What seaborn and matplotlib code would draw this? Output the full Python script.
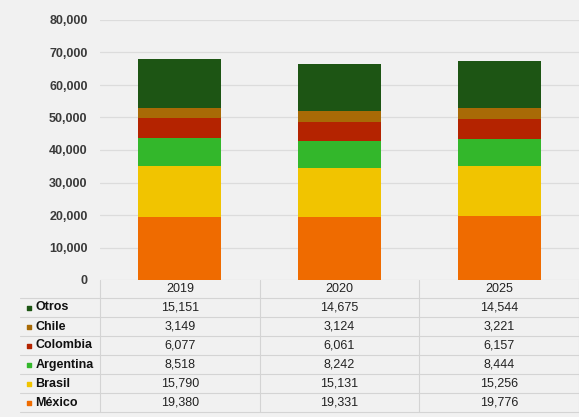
import numpy as np
import seaborn as sns
import matplotlib.pyplot as plt
from matplotlib.transforms import blended_transform_factory

years = ["2019", "2020", "2025"]
series = ["México", "Brasil", "Argentina", "Colombia", "Chile", "Otros"]
mexico = [19380, 19331, 19776]
brasil = [15790, 15131, 15256]
argentina = [8518, 8242, 8444]
colombia = [6077, 6061, 6157]
chile = [3149, 3124, 3221]
otros = [15151, 14675, 14544]
colors = ["#ef6b00", "#f1c400", "#33b72b", "#b42300", "#a86a06", "#1d5514"]

values = [mexico, brasil, argentina, colombia, chile, otros]

sns.set_theme(style="whitegrid")
plt.rcParams["font.family"] = ["Liberation Sans", "DejaVu Sans"]

bg = "#f1f1f1"
fig = plt.figure(figsize=(5.79, 4.17), dpi=100, facecolor=bg)
ax = fig.add_axes([100 / 579, 1 - 280 / 417, 479 / 579, 260 / 417])
ax.set_facecolor(bg)

# stacked bars: draw cumulative totals from the top down
cum = np.cumsum(np.array(values), axis=0)
for i in reversed(range(len(series))):
    sns.barplot(x=years, y=cum[i], color=colors[i], saturation=1,
                width=0.52, ax=ax, linewidth=0, zorder=2)

ax.set_xlim(-0.5, 2.5)
ax.set_ylim(0, 80000)
ax.set_yticks(range(0, 80001, 10000))
ax.set_yticklabels([f"{v:,}" for v in range(0, 80001, 10000)],
                   fontsize=9, fontweight="bold", color="#3a3a3a")
ax.set_xticks([])
ax.tick_params(axis="y", length=0, pad=9)
ax.grid(axis="y", color="#dcdcdc", linewidth=0.9)
ax.grid(axis="x", visible=False)
ax.set_axisbelow(True)
for s in ax.spines.values():
    s.set_visible(False)
ax.set_xlabel("")
ax.set_ylabel("")

# data table under the plot
trans = blended_transform_factory(ax.transData, ax.transAxes)
px = 1 / 260  # one pixel in axes-fraction units (vertical)
head_h = 18 * px
row_h = 19 * px
line_c = "#d4d4d4"
x_left = -0.5 - 80 / 160  # start of row-label column in data units

for j, yr in enumerate(years):
    ax.text(j, -head_h / 2, yr, transform=trans, ha="center", va="center",
            fontsize=9, color="#222222", clip_on=False)

rows = list(reversed(range(len(series))))  # Otros first
for r, i in enumerate(rows):
    yc = -head_h - row_h * (r + 0.5)
    ax.scatter([x_left + 0.055], [yc], marker="s", s=10, color=colors[i],
               transform=trans, clip_on=False, zorder=3)
    ax.text(x_left + 0.095, yc, series[i], transform=trans, ha="left",
            va="center", fontsize=9, fontweight="bold", color="#111111",
            clip_on=False)
    for j in range(len(years)):
        ax.text(j, yc, f"{values[i][j]:,}", transform=trans, ha="center",
                va="center", fontsize=9, color="#222222", clip_on=False)

# table grid lines
y_bottom = -head_h - row_h * len(series)
for k in range(len(series) + 1):
    yl = -head_h - row_h * k
    ax.plot([x_left, 2.5], [yl, yl], color=line_c, linewidth=0.8,
            transform=trans, clip_on=False)
for xv in [-0.5, 0.5, 1.5, 2.5]:
    ax.plot([xv, xv], [0, y_bottom], color=line_c, linewidth=0.8,
            transform=trans, clip_on=False)

plt.savefig("out.png", dpi=100, facecolor=bg)
